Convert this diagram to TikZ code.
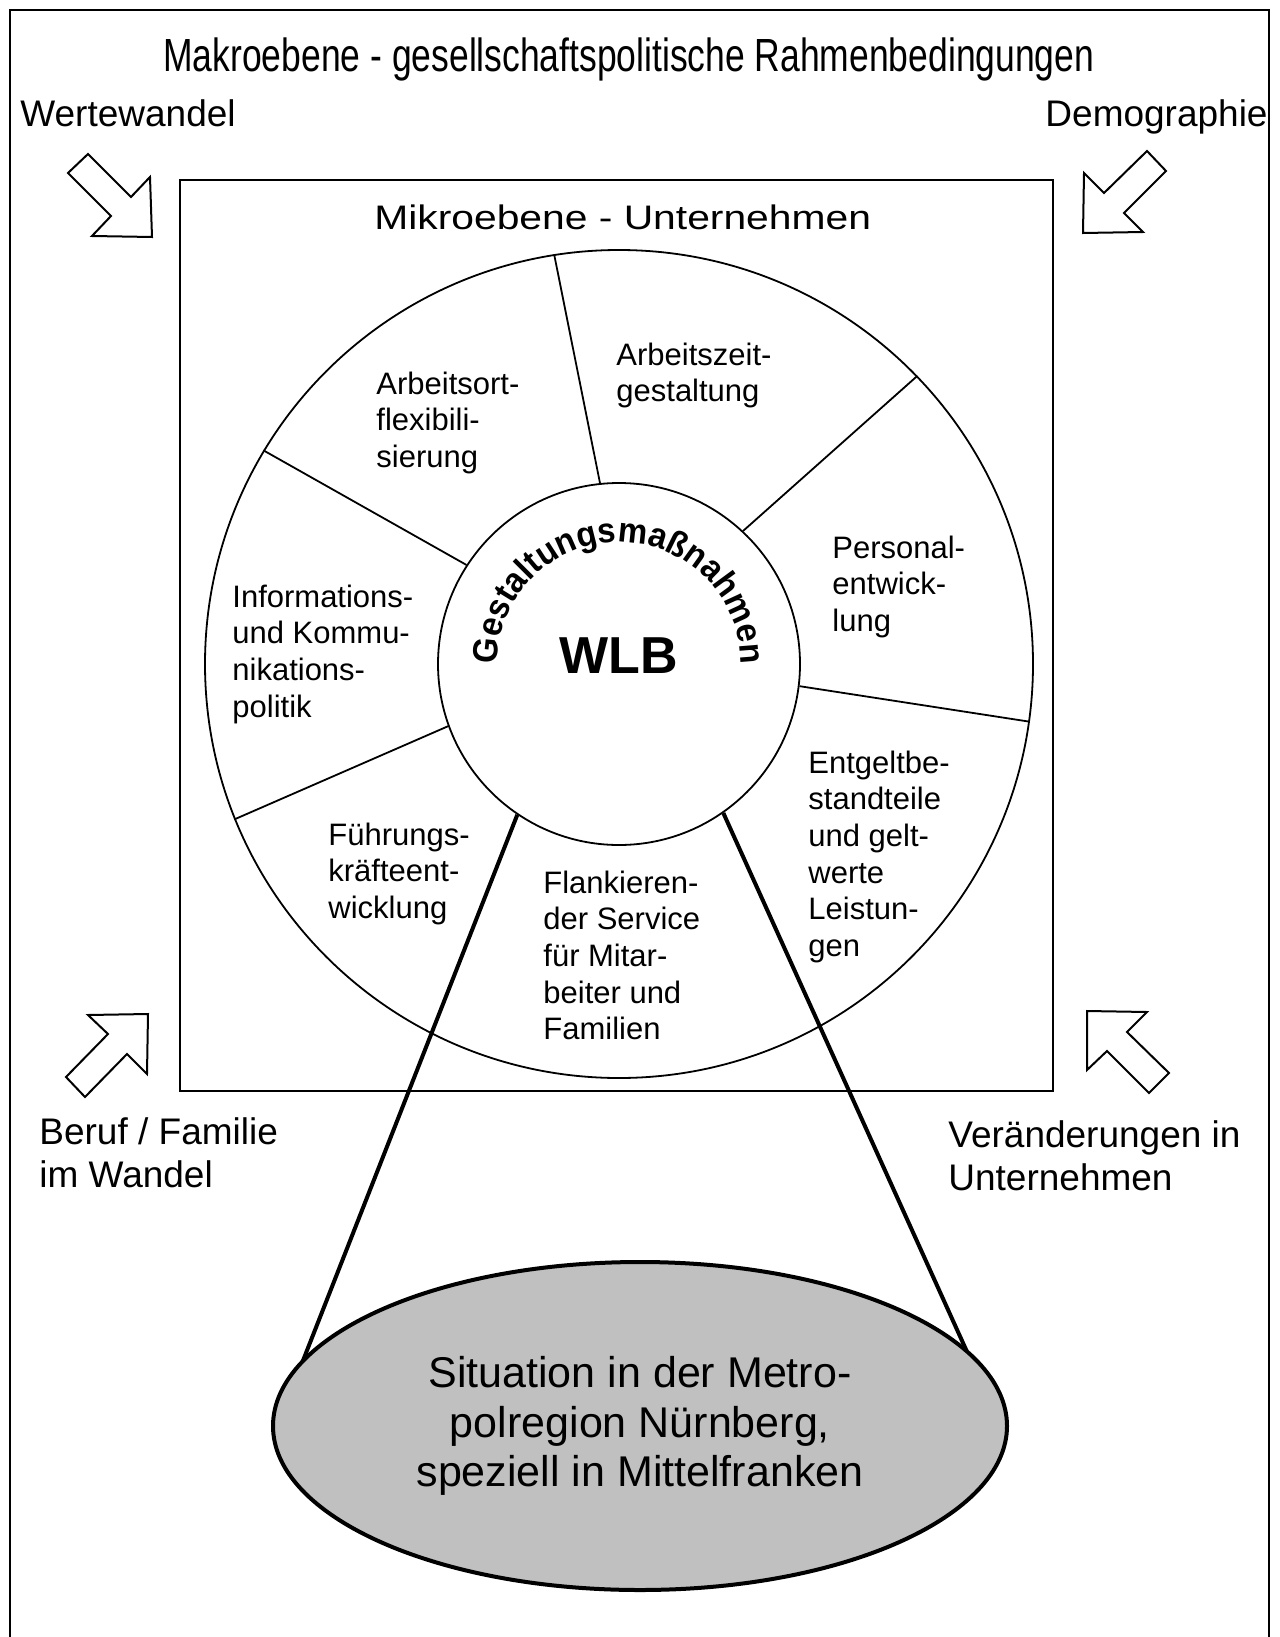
\documentclass[tikz,border=0pt]{standalone}
\usepackage{fontspec}
\setmainfont{Liberation Sans}
\newfontfamily\narrowfont[FakeStretch=0.763]{Liberation Sans}
\newfontfamily\wideffont[FakeStretch=1.2]{Liberation Sans}
\newfontfamily\archfont[FakeStretch=0.94]{Liberation Sans}
\usetikzlibrary{shapes.geometric,decorations.text}
\definecolor{ellgray}{HTML}{C0C0C0}
\begin{document}
\begin{tikzpicture}[x=0.5pt,y=-0.5pt,
  thinline/.style={line width=0.9pt},
  thickline/.style={line width=2pt},
  blockarrow/.style={draw, line width=1pt, line join=miter, fill=white},
  lbl/.style={inner sep=0, align=left, font=\fontsize{15.5}{18.35}\selectfont},
  corner/.style={inner sep=0, align=left, font=\fontsize{18.5}{21.5}\selectfont}]
\useasboundingbox (0,0) rectangle (1279,1637);
% outer frame (open at the bottom)
\draw[line width=1pt] (10,1637) -- (10,10) -- (1269,10) -- (1269,1637);
\node[inner sep=0, anchor=base west, font=\narrowfont\fontsize{23.25}{28}\selectfont] (makro) at (163,72) {Makroebene - gesellschaftspolitische Rahmenbedingungen};
% corner labels (base = baseline of last line)
\node[corner, anchor=base west] (werte) at (20,127) {Wertewandel};
\node[corner, anchor=base east] (demo) at (1268,127) {Demographie};
\node[corner, anchor=base west] (beruf) at (39,1187) {Beruf / Familie\\im Wandel};
\node[corner, anchor=base west] (veraend) at (948,1190) {Veränderungen in\\Unternehmen};
% block arrows
\draw[blockarrow] (88,154) -- (131,197) -- (150,177) -- (152,237) -- (92,236) -- (111,216) -- (68,173) -- cycle;
\draw[blockarrow] (1147,151) -- (1166,171) -- (1124,213) -- (1143,232) -- (1083,233) -- (1084,173) -- (1104,193) -- cycle;
\draw[blockarrow] (88,1015) -- (148,1014) -- (147,1074) -- (127,1054) -- (85,1097) -- (66,1077) -- (108,1034) -- cycle;
\draw[blockarrow] (1087,1011) -- (1147,1012) -- (1127,1032) -- (1169,1073) -- (1149,1093) -- (1107,1051) -- (1087,1070) -- cycle;
% micro box
\node[draw, line width=1pt, inner sep=0, minimum width=436.5pt, minimum height=455.5pt] (mikrobox) at (616.5,635.5) {};
\node[inner sep=0, anchor=base west, font=\wideffont\fontsize{17}{20}\selectfont] (mikro) at (374,229) {Mikroebene - Unternehmen};
% circles
\node[circle, draw, thinline, minimum size=414pt, inner sep=0] (outer) at (619,664) {};
\node[circle, draw, thinline, minimum size=181pt, inner sep=0] (inner) at (619,664) {};
% spokes
\draw[thinline] (inner.96.9) -- (outer.99.6);
\draw[thinline] (inner.47) -- (outer.44.6);
\draw[thinline] (inner.-7) -- (outer.-8.8);
\draw[thinline] (inner.200.6) -- (outer.202);
\draw[thinline] (inner.147.8) -- (outer.149.1);
% sector labels (base = baseline of last line)
\node[lbl, anchor=base west] (ort) at (376,467.4) {Arbeitsort-\\flexibili-\\sierung};
\node[lbl, anchor=base west] (zeit) at (616,401.7) {Arbeitszeit-\\gestaltung};
\node[lbl, anchor=base west] (pers) at (832,631.4) {Personal-\\entwick-\\lung};
\node[lbl, anchor=base west] (info) at (232,717.1) {Informations-\\und Kommu-\\nikations-\\politik};
\node[lbl, anchor=base west] (fuehr) at (328,918.4) {Führungs-\\kräfteent-\\wicklung};
\node[lbl, anchor=base west] (flank) at (543,1039.8) {Flankieren-\\der Service\\für Mitar-\\beiter und\\Familien};
\node[lbl, anchor=base west] (entgelt) at (808,956.5) {Entgeltbe-\\standteile\\und gelt-\\werte\\Leistun-\\gen};
% centre
\node[inner sep=0, anchor=base, font=\bfseries\fontsize{26}{30}\selectfont] (wlb) at (619,673) {WLB};
\path[decorate, decoration={text along path, text={|\archfont\bfseries\fontsize{17.5}{17.5}\selectfont|Gestaltungsmaßnahmen}, text align=center}]
  ([shift={(181:61pt)}]inner.center) arc[start angle=181, end angle=-1, radius=61pt];
% ellipse and zoom lines
\node[ellipse, inner sep=0, minimum width=367pt, minimum height=164pt] (ell) at (640,1426) {};
\draw[thickline] (inner.236.4) -- (ell.169.4);
\draw[thickline] (inner.305.1) -- (ell.13.6);
\node[ellipse, draw, line width=2pt, fill=ellgray, inner sep=0, minimum width=367pt, minimum height=164pt, align=center, font=\fontsize{21.5}{24.75}\selectfont] (region) at (640,1426) {Situation in der Metro-\\polregion Nürnberg,\\speziell in Mittelfranken};
\end{tikzpicture}
\end{document}
